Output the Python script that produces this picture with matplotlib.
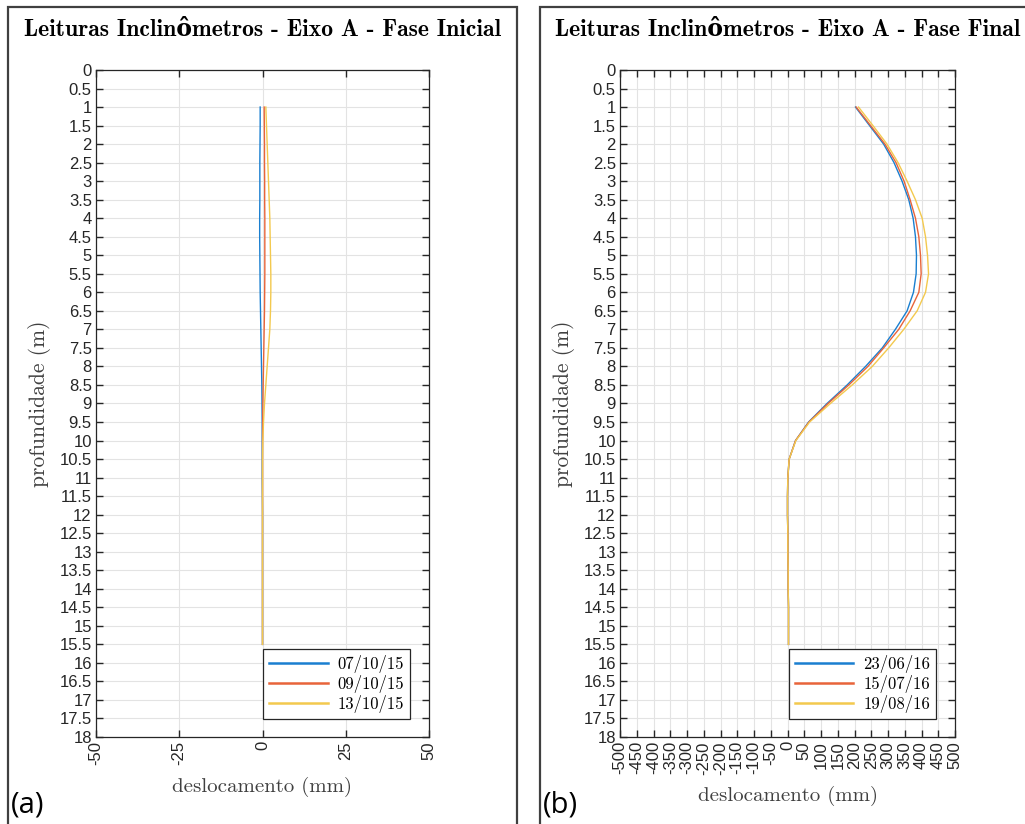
"""Leituras de inclinômetros - Eixo A: fase inicial (a) e fase final (b)."""

import matplotlib
matplotlib.use("Agg")
import matplotlib.pyplot as plt
from matplotlib.patches import Rectangle

# profundidades (m) das leituras
depth = [1 + 0.5 * i for i in range(30)]  # 1.0 ... 15.5

# fase inicial - deslocamento (mm)
dates_a = ["07/10/15", "09/10/15", "13/10/15"]
disp_a_07 = [-0.7, -0.7, -0.75, -0.8, -0.8, -0.8, -0.85, -0.85, -0.8, -0.75,
             -0.7, -0.6, -0.5, -0.4, -0.3, -0.2, -0.15, -0.1, -0.1, -0.1,
             -0.1, -0.05, 0.0, 0.0, 0.0, 0.0, 0.0, 0.0, 0.0, 0.0]
disp_a_09 = [0.5, 0.55, 0.6, 0.6, 0.65, 0.65, 0.7, 0.7, 0.7, 0.7,
             0.65, 0.6, 0.5, 0.4, 0.3, 0.2, 0.1, 0.05, 0.0, 0.0,
             0.0, 0.0, 0.0, 0.0, 0.0, 0.0, 0.0, 0.0, 0.0, 0.0]
disp_a_13 = [1.0, 1.2, 1.4, 1.6, 1.8, 2.0, 2.2, 2.3, 2.4, 2.5,
             2.5, 2.4, 2.2, 1.8, 1.4, 1.0, 0.6, 0.3, 0.1, 0.0,
             0.0, 0.0, 0.0, 0.0, 0.0, 0.0, 0.0, 0.0, 0.0, 0.0]

# fase final - deslocamento (mm)
dates_b = ["23/06/16", "15/07/16", "19/08/16"]
disp_b_2306 = [203, 245, 287, 318, 342, 362, 375, 382, 385, 384,
               376, 357, 322, 283, 233, 178, 118, 63, 24, 5,
               1, 0, 0, 1, 1, 2, 2, 3, 3, 3]
disp_b_1507 = [205, 248, 291, 324, 348, 366, 382, 392, 397, 399,
               392, 366, 332, 287, 240, 183, 121, 64, 24, 5,
               1, 0, 0, 1, 1, 2, 2, 3, 3, 3]
disp_b_1908 = [212, 255, 297, 330, 357, 382, 402, 412, 418, 421,
               412, 387, 347, 302, 253, 193, 128, 66, 25, 5,
               1, 0, 0, 1, 1, 2, 2, 3, 3, 3]

COLORS = ["#1a7fd0", "#e8643a", "#f3c94e"]
SERIF = ["cmr10", "DejaVu Serif"]
SERIF_B = ["cmb10", "DejaVu Serif"]
SANS = "Liberation Sans"

y_ticks = [0.5 * i for i in range(37)]
y_labels = [f"{v:g}" for v in y_ticks]


def draw_panel(fig, rect, series, dates, xlim, xticks, title, letter, box,
               xlabelpad):
    ax = fig.add_axes(rect)
    for vals, c, lab in zip(series, COLORS, dates):
        ax.plot(vals, depth, color=c, lw=1.0, label=lab)
    ax.set_xlim(*xlim)
    ax.set_ylim(18, 0)
    ax.set_yticks(y_ticks)
    ax.set_yticklabels(y_labels, fontfamily=SANS, fontsize=12)
    ax.set_xticks(xticks)
    ax.set_xticklabels([str(v) for v in xticks], rotation=90,
                       fontfamily=SANS, fontsize=12)
    ax.tick_params(direction="in", length=5, width=1, top=True, right=True,
                   colors="#262626", pad=3)
    ax.grid(True, color="#e3e3e3", lw=0.8)
    ax.set_axisbelow(True)
    for s in ax.spines.values():
        s.set_color("#262626")
        s.set_linewidth(0.9)
    ax.set_ylabel("profundidade (m)", fontfamily=SERIF, fontsize=15.5,
                  color="#404040", labelpad=6)
    ax.set_xlabel("deslocamento (mm)", fontfamily=SERIF, fontsize=15,
                  color="#404040", labelpad=xlabelpad)
    leg = ax.legend(loc="lower right", bbox_to_anchor=(0.943, 0.027),
                    borderaxespad=0,
                    prop={"family": SERIF, "size": 12}, fancybox=False,
                    framealpha=1, edgecolor="#262626", handlelength=3.5,
                    borderpad=0.35, labelspacing=0.12, handletextpad=0.6)
    leg.get_frame().set_linewidth(0.9)
    for h in leg.get_lines():
        h.set_linewidth(1.8)
    fig.text(rect[0] + rect[2] / 2, 1 - 30 / 824, title, ha="center",
             va="center", fontfamily=SERIF_B, fontweight="bold", fontsize=17)
    fig.text(box[0] + 0.003, 0.006, letter, fontfamily="Open Sans",
             fontsize=21, ha="left", va="bottom")
    fig.add_artist(Rectangle((box[0], -0.01), box[1] - box[0], 1 - 7 / 824 + 0.01,
                             transform=fig.transFigure, fill=False,
                             edgecolor="#404040", lw=1.6))
    return ax


fig = plt.figure(figsize=(10.25, 8.24), dpi=100)

draw_panel(fig, [96 / 1025, 1 - 737 / 824, 333 / 1025, 667 / 824],
           [disp_a_07, disp_a_09, disp_a_13], dates_a, (-50, 50),
           [-50, -25, 0, 25, 50],
           "Leituras Inclinômetros - Eixo A - Fase Inicial", "(a)",
           (8 / 1025, 517 / 1025), 8)

draw_panel(fig, [620 / 1025, 1 - 737 / 824, 335 / 1025, 667 / 824],
           [disp_b_2306, disp_b_1507, disp_b_1908], dates_b, (-500, 500),
           list(range(-500, 501, 50)),
           "Leituras Inclinômetros - Eixo A - Fase Final", "(b)",
           (540 / 1025, 1.01), 8)

fig.savefig("out.png", dpi=100)
